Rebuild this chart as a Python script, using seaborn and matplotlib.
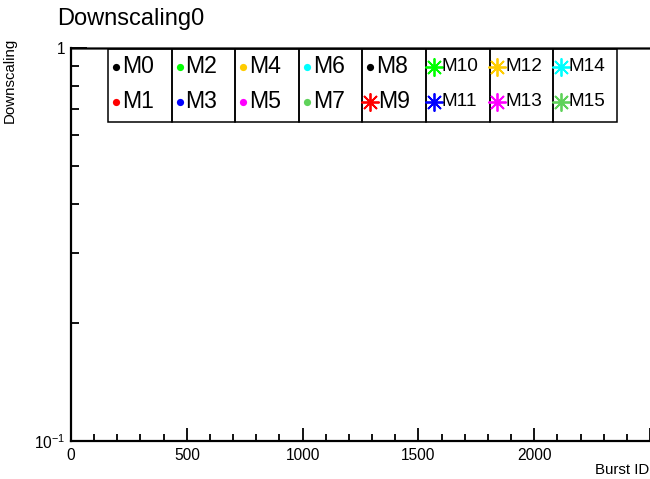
import matplotlib
matplotlib.use("Agg")
import matplotlib.pyplot as plt
import seaborn as sns
import pandas as pd
from matplotlib.lines import Line2D
from matplotlib.patches import Rectangle
from matplotlib.ticker import FixedLocator, FixedFormatter, NullFormatter

# ---------------- data ----------------
modules = ["M0", "M1", "M2", "M3", "M4", "M5", "M6", "M7",
           "M8", "M9", "M10", "M11", "M12", "M13", "M14", "M15"]
module_colors = ["#000000", "#ff0000", "#00ff00", "#0000ff", "#ffcc00", "#ff00ff", "#00ffff", "#5fd25a",
                 "#000000", "#ff0000", "#00ff00", "#0000ff", "#ffcc00", "#ff00ff", "#00ffff", "#5fd25a"]
module_markers = ["dot"] * 9 + ["star"] * 7
label_big = [True] * 10 + [False] * 6
burst_id = [0, 500, 1000, 1500, 2000, 2500]
downscaling = [1, 1, 1, 1, 1, 1]
y_major = [0.1, 1]
y_major_labels = ["$10^{-1}$", "1"]
y_minor = [0.2, 0.3, 0.4, 0.5, 0.6, 0.7, 0.8, 0.9]
x_major = [0, 500, 1000, 1500, 2000, 2500]
x_major_labels = ["0", "500", "1000", "1500", "2000", ""]

rows = []
for m in modules:
    for b, v in zip(burst_id, downscaling):
        rows.append({"Burst ID": b, "Downscaling": v, "module": m})
df = pd.DataFrame(rows)

# ---------------- style ----------------
sns.set_style("ticks")
plt.rcParams["font.family"] = ["Liberation Sans", "DejaVu Sans"]
plt.rcParams["mathtext.fontset"] = "custom"
plt.rcParams["mathtext.rm"] = "Liberation Sans"
plt.rcParams["mathtext.it"] = "Liberation Sans"
plt.rcParams["mathtext.default"] = "regular"
for key in ["text.color", "axes.labelcolor", "xtick.color", "ytick.color", "axes.edgecolor"]:
    plt.rcParams[key] = "black"

W, H = 650, 479
fig = plt.figure(figsize=(W / 100, H / 100), dpi=100)
fig.patch.set_facecolor("white")

def fx(px):
    return px / W

def fy(py):
    return 1 - py / H

ax_left, ax_top, ax_bottom, ax_right = 71, 48, 441, 650
ax = fig.add_axes([fx(ax_left), fy(ax_bottom), fx(ax_right) - fx(ax_left), fy(ax_top) - fy(ax_bottom)])
ax.set_facecolor("white")

sns.lineplot(data=df, x="Burst ID", y="Downscaling", units="module", estimator=None,
             color="black", linewidth=0.8, ax=ax, legend=False)
for ln in ax.get_lines():
    ln.set_clip_on(False)

ax.set_yscale("log")
ax.set_ylim(0.1, 1)
ax.set_xlim(0, 2500)

ax.yaxis.set_major_locator(FixedLocator(y_major))
ax.yaxis.set_major_formatter(FixedFormatter(y_major_labels))
ax.yaxis.set_minor_locator(FixedLocator(y_minor))
ax.yaxis.set_minor_formatter(NullFormatter())
ax.xaxis.set_major_locator(FixedLocator(x_major))
ax.xaxis.set_major_formatter(FixedFormatter(x_major_labels))
ax.xaxis.set_minor_locator(FixedLocator([v for v in range(100, 2500, 100) if v % 500]))

ax.tick_params(axis="y", which="major", direction="in", length=11.5, width=1.3, labelsize=11.2, pad=4,
               colors="black")
ax.tick_params(axis="y", which="minor", direction="in", length=5.8, width=1.3, colors="black")
ax.tick_params(axis="x", which="major", direction="in", length=9.5, width=1.3, labelsize=11.2, pad=5,
               colors="black")
ax.tick_params(axis="x", which="minor", direction="in", length=5, width=1.3, colors="black")

ax.set_xlabel("")
ax.set_ylabel("")
for s in ["top", "right"]:
    ax.spines[s].set_visible(False)
for s in ["left", "bottom"]:
    ax.spines[s].set_linewidth(1.6)
    ax.spines[s].set_color("black")

# ---------------- texts ----------------
fig.text(fx(57), fy(19), "Downscaling0", ha="left", va="center", fontsize=17, color="black")
fig.text(fx(10), fy(38), "Downscaling", rotation=90, ha="center", va="top", fontsize=10.8, color="black")
fig.text(fx(649), fy(470), "Burst ID", ha="right", va="center", fontsize=10.8, color="black")

# ---------------- legend (8 columns x 2 rows) ----------------
leg_left, leg_top, leg_bottom, cell_w = 108, 49, 122, 63.6
row_y = [66.5, 101.7]
for c in range(8):
    x0 = leg_left + c * cell_w
    fig.add_artist(Rectangle((fx(x0), fy(leg_bottom)), fx(cell_w), fy(leg_top) - fy(leg_bottom),
                             transform=fig.transFigure, facecolor="none", edgecolor="black",
                             linewidth=1.1, zorder=5))
for i, (m, col, mk, big) in enumerate(zip(modules, module_colors, module_markers, label_big)):
    c, r = i // 2, i % 2
    x0 = leg_left + c * cell_w
    y = row_y[r]
    if mk == "dot":
        fig.add_artist(Line2D([fx(x0 + 8)], [fy(y)], transform=fig.transFigure, marker="o",
                              markersize=5.2, color=col, markeredgewidth=0, linestyle="none", zorder=6))
    else:
        fig.add_artist(Line2D([fx(x0 + 7.5)], [fy(y)], transform=fig.transFigure, marker=(8, 2, 0),
                              markersize=13, color=col, markeredgewidth=1.3, linestyle="none", zorder=6))
    tx = x0 + (14 if mk == "dot" else 15.5)
    fig.text(fx(tx), fy(y), m, ha="left", va="center", fontsize=16.6 if big else 13.7,
             color="black", zorder=6)

fig.savefig("out.png", dpi=100, facecolor="white")
